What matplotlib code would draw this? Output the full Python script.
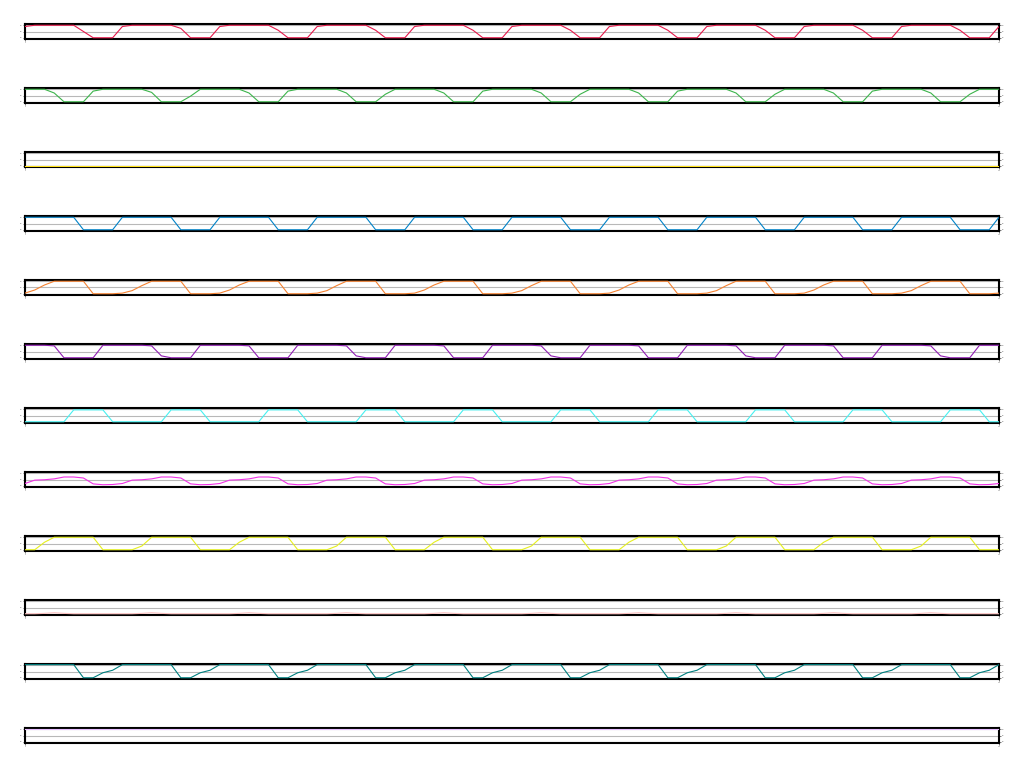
import matplotlib
matplotlib.use("Agg")
import matplotlib.pyplot as plt

# sample index 0..100
x = list(range(101))

# one list per strip (10 samples per cycle)
red = [0.9, 1, 1, 1, 1, 1, 0.5, 0, 0, 0,
       0.9, 1, 1, 1, 1, 1, 0.75, 0, 0, 0,
       0.9, 1, 1, 1, 1, 1, 0.6, 0, 0, 0,
       0.9, 1, 1, 1, 1, 1, 0.6, 0, 0, 0,
       0.9, 1, 1, 1, 1, 1, 0.6, 0, 0, 0,
       0.9, 1, 1, 1, 1, 1, 0.6, 0, 0, 0,
       0.9, 1, 1, 1, 1, 1, 0.6, 0, 0, 0,
       0.9, 1, 1, 1, 1, 1, 0.6, 0, 0, 0,
       0.9, 1, 1, 1, 1, 1, 0.6, 0, 0, 0,
       0.9, 1, 1, 1, 1, 1, 0.6, 0, 0, 0,
       0.9]
green = [1, 1, 1, 0.7, 0, 0, 0, 0.85, 1, 1,
         1, 1, 1, 0.75, 0, 0, 0, 0.45, 1, 1,
         1, 1, 1, 0.7, 0, 0, 0, 0.85, 1, 1,
         1, 1, 1, 0.7, 0, 0, 0, 0.6, 1, 1,
         1, 1, 1, 0.7, 0, 0, 0, 0.85, 1, 1,
         1, 1, 1, 0.7, 0, 0, 0, 0.6, 1, 1,
         1, 1, 1, 0.7, 0, 0, 0, 0.85, 1, 1,
         1, 1, 1, 0.7, 0, 0, 0, 0.6, 1, 1,
         1, 1, 1, 0.7, 0, 0, 0, 0.85, 1, 1,
         1, 1, 1, 0.7, 0, 0, 0, 0.6, 1, 1,
         1]
yellow = [0] * 101
blue = [1, 1, 1, 1, 1, 1, 0, 0, 0, 0,
        1, 1, 1, 1, 1, 1, 0, 0, 0, 0,
        1, 1, 1, 1, 1, 1, 0, 0, 0, 0,
        1, 1, 1, 1, 1, 1, 0, 0, 0, 0,
        1, 1, 1, 1, 1, 1, 0, 0, 0, 0,
        1, 1, 1, 1, 1, 1, 0, 0, 0, 0,
        1, 1, 1, 1, 1, 1, 0, 0, 0, 0,
        1, 1, 1, 1, 1, 1, 0, 0, 0, 0,
        1, 1, 1, 1, 1, 1, 0, 0, 0, 0,
        1, 1, 1, 1, 1, 1, 0, 0, 0, 0,
        1]
orange = [0.05, 0.3, 0.7, 1, 1, 1, 1, 0, 0, 0,
          0.05, 0.25, 0.65, 1, 1, 1, 1, 0, 0, 0,
          0.05, 0.3, 0.7, 1, 1, 1, 1, 0, 0, 0,
          0.05, 0.25, 0.65, 1, 1, 1, 1, 0, 0, 0,
          0.05, 0.3, 0.7, 1, 1, 1, 1, 0, 0, 0,
          0.05, 0.25, 0.65, 1, 1, 1, 1, 0, 0, 0,
          0.05, 0.3, 0.7, 1, 1, 1, 1, 0, 0, 0,
          0.05, 0.25, 0.65, 1, 1, 1, 1, 0, 0, 0,
          0.05, 0.3, 0.7, 1, 1, 1, 1, 0, 0, 0,
          0.05, 0.25, 0.65, 1, 1, 1, 1, 0, 0, 0,
          0.05]
purple = [1, 1, 1, 0.95, 0, 0, 0, 0, 1, 1,
          1, 1, 1, 0.95, 0.15, 0, 0, 0, 1, 1,
          1, 1, 1, 0.95, 0, 0, 0, 0, 1, 1,
          1, 1, 1, 0.95, 0.15, 0, 0, 0, 1, 1,
          1, 1, 1, 0.95, 0, 0, 0, 0, 1, 1,
          1, 1, 1, 0.95, 0.15, 0, 0, 0, 1, 1,
          1, 1, 1, 0.95, 0, 0, 0, 0, 1, 1,
          1, 1, 1, 0.95, 0.15, 0, 0, 0, 1, 1,
          1, 1, 1, 0.95, 0, 0, 0, 0, 1, 1,
          1, 1, 1, 0.95, 0.15, 0, 0, 0, 1, 1,
          1]
cyan = [0, 0, 0, 0, 0, 0.95, 0.95, 0.95, 0.95, 0,
        0, 0, 0, 0, 0, 0.95, 0.95, 0.95, 0.95, 0,
        0, 0, 0, 0, 0, 0.95, 0.95, 0.95, 0.95, 0,
        0, 0, 0, 0, 0, 0.95, 0.95, 0.95, 0.95, 0,
        0, 0, 0, 0, 0, 0.95, 0.95, 0.95, 0.95, 0,
        0, 0, 0, 0, 0, 0.95, 0.95, 0.95, 0.95, 0,
        0, 0, 0, 0, 0, 0.95, 0.95, 0.95, 0.95, 0,
        0, 0, 0, 0, 0, 0.95, 0.95, 0.95, 0.95, 0,
        0, 0, 0, 0, 0, 0.95, 0.95, 0.95, 0.95, 0,
        0, 0, 0, 0, 0, 0.95, 0.95, 0.95, 0.95, 0,
        0]
magenta = [0.18, 0.45, 0.48, 0.55, 0.7, 0.7, 0.62, 0.15, 0.08, 0.1,
           0.18, 0.45, 0.48, 0.55, 0.7, 0.7, 0.62, 0.15, 0.08, 0.1,
           0.18, 0.45, 0.48, 0.55, 0.7, 0.7, 0.62, 0.15, 0.08, 0.1,
           0.18, 0.45, 0.48, 0.55, 0.7, 0.7, 0.62, 0.15, 0.08, 0.1,
           0.18, 0.45, 0.48, 0.55, 0.7, 0.7, 0.62, 0.15, 0.08, 0.1,
           0.18, 0.45, 0.48, 0.55, 0.7, 0.7, 0.62, 0.15, 0.08, 0.1,
           0.18, 0.45, 0.48, 0.55, 0.7, 0.7, 0.62, 0.15, 0.08, 0.1,
           0.18, 0.45, 0.48, 0.55, 0.7, 0.7, 0.62, 0.15, 0.08, 0.1,
           0.18, 0.45, 0.48, 0.55, 0.7, 0.7, 0.62, 0.15, 0.08, 0.1,
           0.18, 0.45, 0.48, 0.55, 0.7, 0.7, 0.62, 0.15, 0.08, 0.1,
           0.18]
lime = [0, 0, 0.6, 1, 1, 1, 1, 1, 0, 0,
        0, 0, 0.3, 1, 1, 1, 1, 1, 0, 0,
        0, 0, 0.6, 1, 1, 1, 1, 1, 0, 0,
        0, 0, 0.3, 1, 1, 1, 1, 1, 0, 0,
        0, 0, 0.6, 1, 1, 1, 1, 1, 0, 0,
        0, 0, 0.3, 1, 1, 1, 1, 1, 0, 0,
        0, 0, 0.6, 1, 1, 1, 1, 1, 0, 0,
        0, 0, 0.3, 1, 1, 1, 1, 1, 0, 0,
        0, 0, 0.6, 1, 1, 1, 1, 1, 0, 0,
        0, 0, 0.3, 1, 1, 1, 1, 1, 0, 0,
        0]
pink = [0, 0, 0.03, 0.08, 0.03, 0, 0, 0, 0, 0,
        0, 0, 0.03, 0.08, 0.03, 0, 0, 0, 0, 0,
        0, 0, 0.03, 0.08, 0.03, 0, 0, 0, 0, 0,
        0, 0, 0.03, 0.08, 0.03, 0, 0, 0, 0, 0,
        0, 0, 0.03, 0.08, 0.03, 0, 0, 0, 0, 0,
        0, 0, 0.03, 0.08, 0.03, 0, 0, 0, 0, 0,
        0, 0, 0.03, 0.08, 0.03, 0, 0, 0, 0, 0,
        0, 0, 0.03, 0.08, 0.03, 0, 0, 0, 0, 0,
        0, 0, 0.03, 0.08, 0.03, 0, 0, 0, 0, 0,
        0, 0, 0.03, 0.08, 0.03, 0, 0, 0, 0, 0,
        0]
teal = [1.05, 1.05, 1.05, 1.05, 1.05, 1.05, 0, 0, 0.4, 0.6,
        1.05, 1.05, 1.05, 1.05, 1.05, 1.05, 0, 0, 0.4, 0.6,
        1.05, 1.05, 1.05, 1.05, 1.05, 1.05, 0, 0, 0.4, 0.6,
        1.05, 1.05, 1.05, 1.05, 1.05, 1.05, 0, 0, 0.4, 0.6,
        1.05, 1.05, 1.05, 1.05, 1.05, 1.05, 0, 0, 0.4, 0.6,
        1.05, 1.05, 1.05, 1.05, 1.05, 1.05, 0, 0, 0.4, 0.6,
        1.05, 1.05, 1.05, 1.05, 1.05, 1.05, 0, 0, 0.4, 0.6,
        1.05, 1.05, 1.05, 1.05, 1.05, 1.05, 0, 0, 0.4, 0.6,
        1.05, 1.05, 1.05, 1.05, 1.05, 1.05, 0, 0, 0.4, 0.6,
        1.05, 1.05, 1.05, 1.05, 1.05, 1.05, 0, 0, 0.4, 0.6,
        1.05]
lavender = [1.0] * 101

SERIES = [red, green, yellow, blue, orange, purple,
          cyan, magenta, lime, pink, teal, lavender]
COLORS = ["#e6194b", "#3cb44b", "#ffe119", "#0082c8", "#f58231", "#911eb4",
          "#46f0f0", "#f032e6", "#e6f01e", "#fabebe", "#008080", "#e6beff"]

fig, axes = plt.subplots(len(SERIES), 1, figsize=(10.24, 7.68), dpi=100)
fig.subplots_adjust(left=25 / 1024, right=999 / 1024,
                    top=1 - 24 / 768, bottom=1 - 743 / 768, hspace=49 / 15)

for ax, y, c in zip(axes, SERIES, COLORS):
    ax.plot(x, y, color=c, linewidth=0.8, zorder=3)
    ax.set_xlim(0, 100)
    ax.set_ylim(-0.1, 1.1)
    ax.set_xticks([0, 100])
    ax.set_yticks([0, 0.5, 1])
    ax.grid(True, color="#b8b8b8", linewidth=0.8)
    ax.tick_params(axis="both", labelsize=1.2, length=1.5, width=0.6,
                   colors="#666666", pad=0.5)
    ax.tick_params(axis="y", right=True, labelright=True)
    for s in ax.spines.values():
        s.set_color("black")
        s.set_linewidth(1.5)

fig.savefig("out.png", dpi=100)
